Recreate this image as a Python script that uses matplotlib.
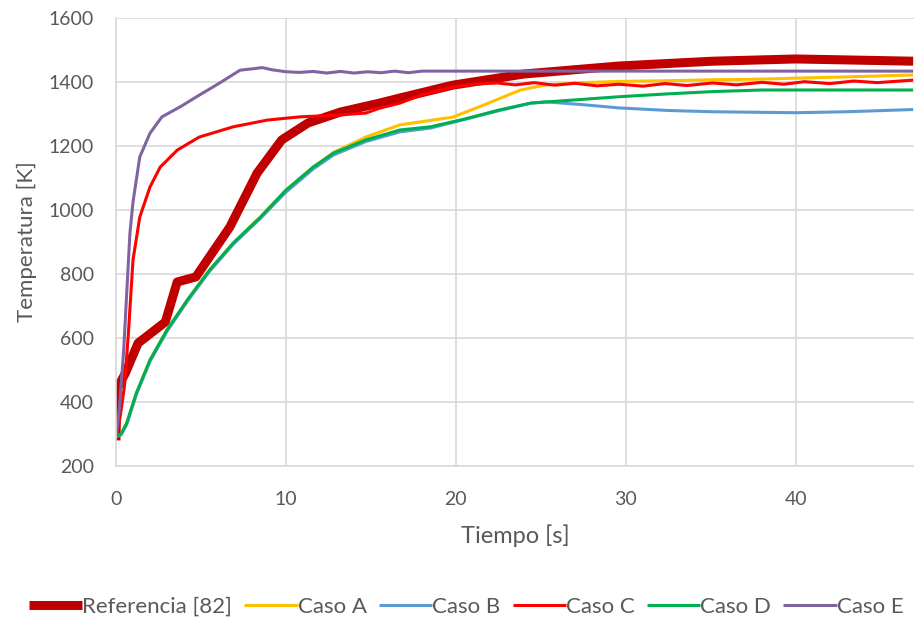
import matplotlib

matplotlib.use("Agg")

import matplotlib.pyplot as plt  # noqa: E402

# Valores (tiempo [s], temperatura [K])
ref_t = [0, 0.05, 0.55, 1.3, 2.9, 3.6, 4.7, 6.7, 8.3, 9.75, 11.3, 13.2, 15.5,
         16.7, 19.8, 24.0, 29.6, 35.1, 40.0, 46.9]
ref_T = [280, 440, 490, 584, 650, 775, 791, 947, 1115, 1219, 1272, 1306, 1334,
         1350, 1390, 1425, 1450, 1465, 1472, 1465]

a_t = [0, 0.3, 0.63, 1.2, 2, 3, 4.2, 5.5, 6.9, 8.5, 10, 11.6, 12.8, 14.7, 16.7,
       18.5, 19.8, 21.4, 23.8, 25.3, 27.5, 29.6, 32.5, 35.1, 38, 40, 43, 46.9]
a_T = [291, 300, 334, 428, 531, 625, 719, 812, 897, 978, 1062, 1134, 1180, 1228,
       1266, 1280, 1290, 1323, 1375, 1391, 1398, 1402, 1404, 1407, 1409, 1412,
       1416, 1422]

b_t = [0, 0.3, 0.63, 1.2, 2, 3, 4.2, 5.5, 6.9, 8.5, 10, 11.6, 12.8, 14.7, 16.7,
       18.5, 20.5, 22.5, 24.4, 25.3, 27.5, 29.6, 32.5, 35.1, 40, 43, 46.9]
b_T = [291, 298, 330, 424, 527, 621, 715, 808, 893, 974, 1056, 1128, 1172, 1214,
       1244, 1256, 1283, 1310, 1334, 1338, 1329, 1319, 1311, 1307, 1304, 1307,
       1314]

d_t = [0, 0.3, 0.63, 1.2, 2, 3, 4.2, 5.5, 6.9, 8.5, 10, 11.6, 12.8, 14.7, 16.7,
       18.5, 20.5, 22.5, 24.4, 27, 29.6, 32.5, 35.1, 38, 46.9]
d_T = [291, 300, 334, 428, 531, 625, 719, 812, 897, 978, 1062, 1134, 1178, 1219,
       1250, 1260, 1284, 1312, 1334, 1344, 1354, 1363, 1370, 1375, 1375]

c_t = [0, 0.24, 0.5, 0.73, 1.0, 1.4, 2.0, 2.6, 3.6, 4.9, 6.9, 8.9, 10.8, 13.2,
       14.7, 15.5, 16.7, 18, 19.8, 21, 22.4, 23.5, 24.6, 25.8, 27, 28.3, 29.6,
       31, 32.3, 33.6, 35.1, 36.5, 38, 39.3, 40.5, 42, 43.4, 44.8, 46.9]
c_T = [291, 353, 450, 615, 844, 978, 1072, 1134, 1187, 1228, 1260, 1281, 1291,
       1297, 1303, 1318, 1334, 1360, 1384, 1393, 1397, 1391, 1398, 1390, 1396,
       1388, 1393, 1387, 1395, 1389, 1397, 1391, 1399, 1393, 1401, 1395, 1403,
       1398, 1406]

e_t = [0, 0.2, 0.45, 0.82, 1.0, 1.4, 2.0, 2.7, 3.76, 4.9, 6.1, 7.3, 8.0, 8.6,
       9.2, 10, 10.8, 11.6, 12.4, 13.2, 14.0, 14.8, 15.6, 16.4, 17.2, 18, 46.9]
e_T = [291, 380, 560, 928, 1025, 1166, 1240, 1291, 1322, 1359, 1397, 1437, 1441,
       1445, 1438, 1432, 1430, 1433, 1428, 1433, 1428, 1432, 1429, 1434, 1429,
       1434, 1434]

series = [
    ("Referencia [82]", ref_t, ref_T, "#c00000", 6.5),
    ("Caso A", a_t, a_T, "#ffc000", 2.2),
    ("Caso B", b_t, b_T, "#5b9bd5", 2.2),
    ("Caso C", c_t, c_T, "#ff0000", 2.2),
    ("Caso D", d_t, d_T, "#00b050", 2.2),
    ("Caso E", e_t, e_T, "#8064a2", 2.2),
]

TEXT = "#595959"
GRID = "#d9d9d9"

plt.rcParams.update({"font.family": ["Lato", "DejaVu Sans"], "font.size": 14})

fig = plt.figure(figsize=(9.14, 6.2), dpi=100)
ax = fig.add_axes([116 / 914, 1 - 466 / 620, 1 - 116 / 914, 448 / 620])

for label, t, T, color, lw in series:
    ax.plot(t, T, color=color, linewidth=lw, label=label,
            solid_capstyle="butt", solid_joinstyle="round")

ax.set_xlim(0, 46.95)
ax.set_ylim(200, 1600)
ax.set_xticks([0, 10, 20, 30, 40])
ax.set_yticks(range(200, 1601, 200))
ax.grid(True, color=GRID, linewidth=1.2)
ax.set_axisbelow(True)
for side in ("top", "right"):
    ax.spines[side].set_visible(False)
for side in ("left", "bottom"):
    ax.spines[side].set_color(GRID)
    ax.spines[side].set_linewidth(1.2)
ax.tick_params(length=0, colors=TEXT, labelsize=14)
ax.tick_params(axis="y", pad=16)
ax.tick_params(axis="x", pad=18)
ax.set_xlabel("Tiempo [s]", color=TEXT, fontsize=17, labelpad=12)
ax.set_ylabel("Temperatura [K]", color=TEXT, fontsize=16, labelpad=8)

leg = fig.legend(loc="center", bbox_to_anchor=(0.51, 1 - 607 / 620), ncol=6,
                 frameon=False, fontsize=16, handlelength=2.4,
                 handletextpad=0.0, columnspacing=0.55, labelcolor=TEXT)

fig.savefig("out.png", dpi=100)
